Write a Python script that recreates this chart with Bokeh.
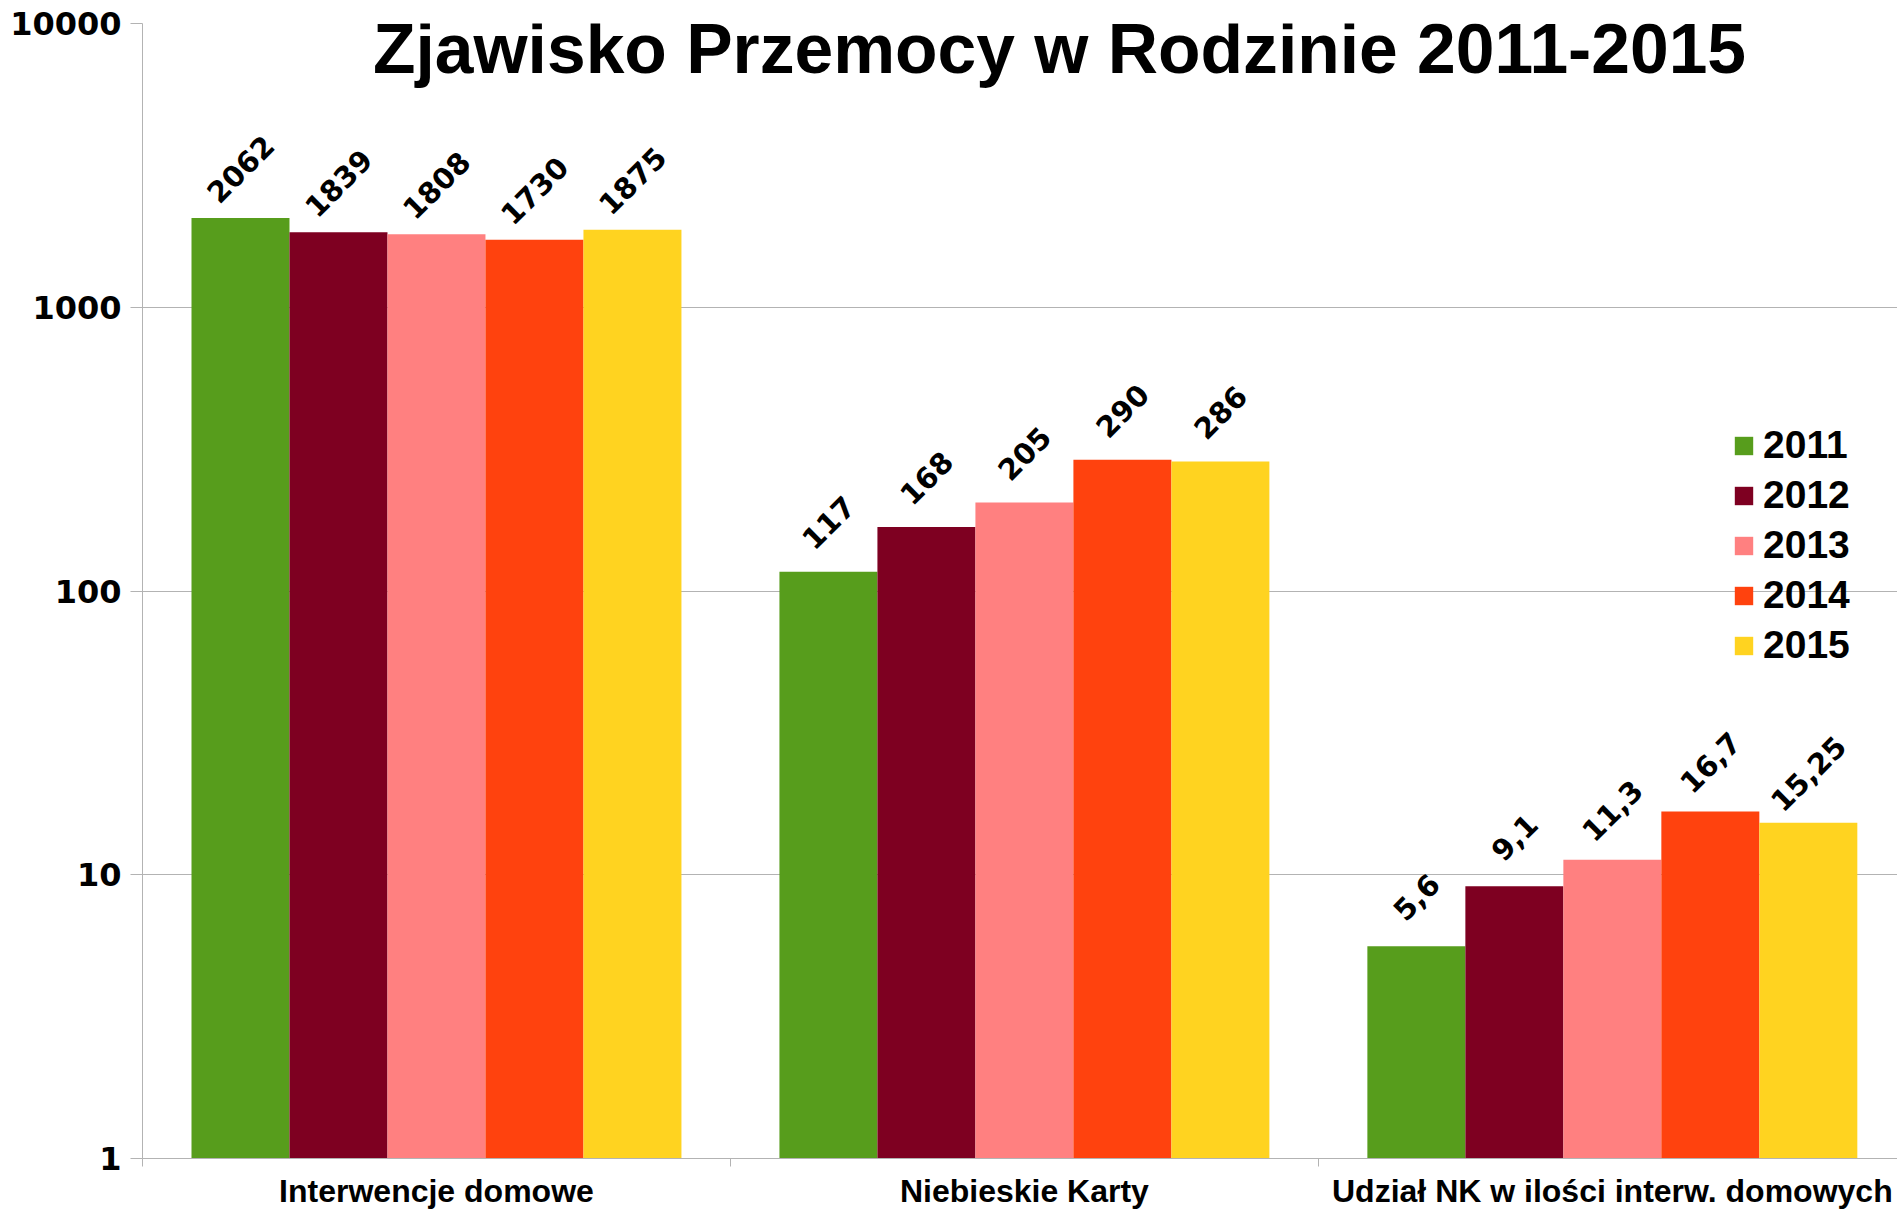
from math import pi
from bokeh.plotting import figure
from bokeh.models import (Range1d, FixedTicker, BasicTickFormatter, Label, Legend,
                          LegendItem, ColumnDataSource)
from bokeh.transform import dodge
from bokeh.core.properties import value
from bokeh.embed import file_html
from bokeh.resources import INLINE

# ---------------- data ----------------
title_text = "Zjawisko Przemocy w Rodzinie 2011-2015"
categories = ["Interwencje domowe", "Niebieskie Karty", "Udział NK w ilości interw. domowych"]
cat_pos = [1, 2, 3]
years = ["2011", "2012", "2013", "2014", "2015"]
v2011 = [2062, 117, 5.6]
v2012 = [1839, 168, 9.1]
v2013 = [1808, 205, 11.3]
v2014 = [1730, 290, 16.7]
v2015 = [1875, 286, 15.25]
series = [v2011, v2012, v2013, v2014, v2015]
colors = ["#579d1c", "#7e0021", "#ff8080", "#ff420e", "#ffd320"]
y_ticks = [1, 10, 100, 1000, 10000]
y_tick_labels = ["1", "10", "100", "1000", "10000"]


def fmt(v):
    return f"{v:g}".replace(".", ",")


# ---------------- figure ----------------
p = figure(width=1897, height=1212, y_axis_type="log",
           x_range=Range1d(0.5, 3.485), y_range=Range1d(1, 10000),
           output_backend="svg", toolbar_location=None,
           min_border_left=142, min_border_right=0, min_border_top=23,
           min_border_bottom=54)
p.outline_line_color = None
p.background_fill_color = "white"
p.border_fill_color = "white"
p.xgrid.visible = False
p.ygrid.grid_line_color = "#b3b3b3"
p.ygrid.grid_line_width = 1

# y axis
p.yaxis.ticker = FixedTicker(ticks=y_ticks, minor_ticks=[])
p.yaxis.formatter = BasicTickFormatter(use_scientific=False)
p.yaxis.major_label_overrides = {t: l for t, l in zip(y_ticks, y_tick_labels)}
p.yaxis.axis_line_color = "#b3b3b3"
p.yaxis.major_tick_line_color = "#b3b3b3"
p.yaxis.major_tick_out = 12
p.yaxis.major_tick_in = 0
p.yaxis.minor_tick_line_color = None
p.yaxis.major_label_standoff = 9
p.yaxis.major_label_text_font = "DejaVu Sans"
p.yaxis.major_label_text_font_style = "bold"
p.yaxis.major_label_text_font_size = "32px"
p.yaxis.major_label_text_color = "black"

# x axis
boundaries = [c - 0.5 for c in cat_pos] + [cat_pos[-1] + 0.5]
p.xaxis.ticker = FixedTicker(ticks=cat_pos, minor_ticks=boundaries)
p.xaxis.major_label_overrides = {c: n for c, n in zip(cat_pos, categories)}
p.xaxis.axis_line_color = "#b3b3b3"
p.xaxis.major_tick_line_color = None
p.xaxis.major_tick_out = 0
p.xaxis.major_tick_in = 0
p.xaxis.minor_tick_line_color = "#b3b3b3"
p.xaxis.minor_tick_out = 8
p.xaxis.minor_tick_in = 0
p.xaxis.major_label_standoff = 6
p.xaxis.major_label_text_font = "Liberation Sans"
p.xaxis.major_label_text_font_style = "bold"
p.xaxis.major_label_text_font_size = "32px"
p.xaxis.major_label_text_color = "black"

# bars + labels
bar_w = 1 / 6
items = []
for j, (yr, vals, col) in enumerate(zip(years, series, colors)):
    off = (j - 2) * bar_w
    src = ColumnDataSource(dict(x=cat_pos, top=vals, lab=[fmt(v) for v in vals]))
    r = p.vbar(x=dodge("x", off, range=p.x_range), top="top", bottom=1, width=bar_w,
               source=src, fill_color=col, line_color=None)
    p.text(x=dodge("x", off, range=p.x_range), y="top", text="lab", source=src,
           angle=pi / 4, text_align="center", text_baseline="middle", y_offset=-49,
           text_font=value("DejaVu Sans"), text_font_style="bold",
           text_font_size="29px", text_color="black")
    items.append(LegendItem(label=yr, renderers=[r]))

legend = Legend(items=items, location=(1590, 491))
legend.label_text_font = "Liberation Sans"
legend.label_text_font_style = "bold"
legend.label_text_font_size = "39px"
legend.label_text_color = "black"
legend.glyph_width = 23
legend.glyph_height = 23
legend.label_standoff = 8
legend.spacing = 6
legend.padding = 0
legend.margin = 0
legend.border_line_color = None
legend.background_fill_alpha = 0
p.add_layout(legend)

title = Label(x=917, y=1110, x_units="screen", y_units="screen", text=title_text,
              text_font="Liberation Sans", text_font_style="bold",
              text_font_size="69.6px", text_align="center", text_baseline="middle",
              text_color="black")
p.add_layout(title)

open("out.html", "w").write(file_html(p, INLINE))
